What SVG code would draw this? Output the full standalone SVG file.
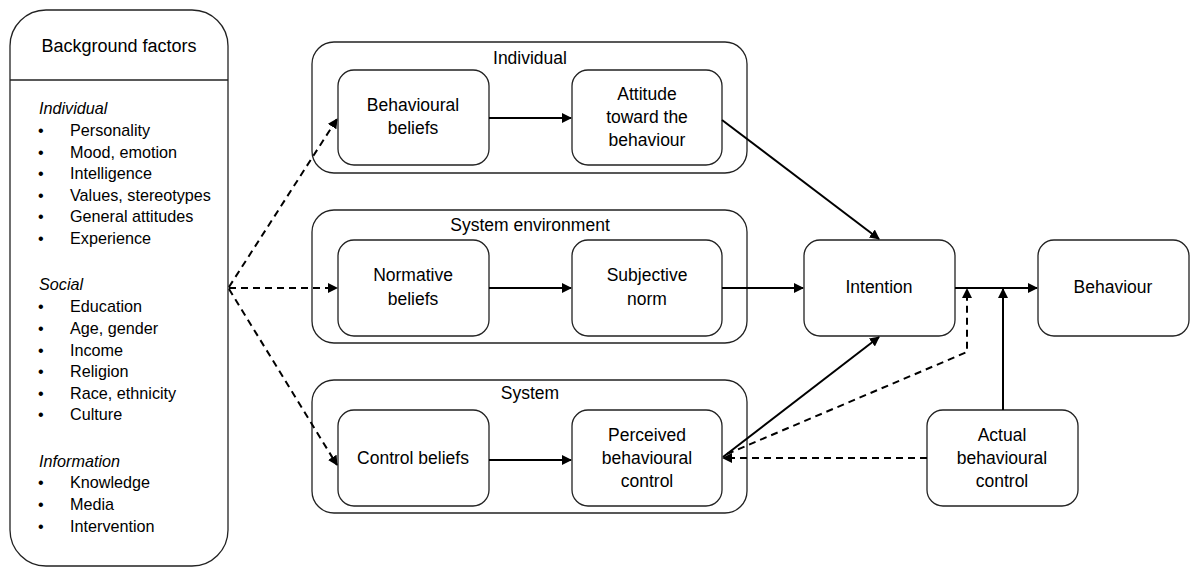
<svg xmlns="http://www.w3.org/2000/svg" width="1200" height="577" viewBox="0 0 1200 577">
<style>
.box{fill:#fff;stroke:#222;stroke-width:1.3}
.t{font-family:"Liberation Sans",Arial,sans-serif;font-size:17.5px;fill:#000;text-anchor:middle}
.l{font-family:"Liberation Sans",Arial,sans-serif;font-size:16.2px;fill:#000}
.i{font-style:italic}
.s{stroke:#000;stroke-width:2;fill:none}
.d{stroke:#000;stroke-width:2;fill:none;stroke-dasharray:7,5}
</style>
<defs>
<marker id="a" viewBox="0 0 10 10" refX="9" refY="5" markerWidth="5" markerHeight="5" orient="auto" markerUnits="strokeWidth">
<path d="M0,0 L10,5 L0,10 z" fill="#000"/>
</marker>
</defs>
<rect width="1200" height="577" fill="#fff"/>
<g id="background">
<rect class="box" x="10" y="10" width="218" height="556" rx="36"/>
<line x1="10" y1="80" x2="228" y2="80" stroke="#222" stroke-width="1.5"/>
<text class="t" x="119" y="52" style="font-size:18px">Background factors</text>
<g class="l">
<text x="39" y="114" class="i">Individual</text>
<text x="38" y="136">•</text><text x="70" y="136">Personality</text>
<text x="38" y="158">•</text><text x="70" y="158">Mood, emotion</text>
<text x="38" y="179">•</text><text x="70" y="179">Intelligence</text>
<text x="38" y="201">•</text><text x="70" y="201">Values, stereotypes</text>
<text x="38" y="222">•</text><text x="70" y="222">General attitudes</text>
<text x="38" y="244">•</text><text x="70" y="244">Experience</text>
<text x="39" y="290" class="i">Social</text>
<text x="38" y="312">•</text><text x="70" y="312">Education</text>
<text x="38" y="334">•</text><text x="70" y="334">Age, gender</text>
<text x="38" y="356">•</text><text x="70" y="356">Income</text>
<text x="38" y="377">•</text><text x="70" y="377">Religion</text>
<text x="38" y="399">•</text><text x="70" y="399">Race, ethnicity</text>
<text x="38" y="420">•</text><text x="70" y="420">Culture</text>
<text x="39" y="467" class="i">Information</text>
<text x="38" y="488">•</text><text x="70" y="488">Knowledge</text>
<text x="38" y="510">•</text><text x="70" y="510">Media</text>
<text x="38" y="532">•</text><text x="70" y="532">Intervention</text>
</g>
</g>
<g id="grp-individual">
<rect class="box" x="312" y="42" width="435" height="131" rx="22"/>
<text class="t" x="530" y="64">Individual</text>
</g>
<g id="grp-sysenv">
<rect class="box" x="312" y="210" width="435" height="133" rx="22"/>
<text class="t" x="530" y="231">System environment</text>
</g>
<g id="grp-system">
<rect class="box" x="312" y="380" width="435" height="133" rx="22"/>
<text class="t" x="530" y="399">System</text>
</g>
<g id="behavioural-beliefs">
<rect class="box" x="338" y="70" width="151" height="95" rx="16"/>
<text class="t" x="413" y="111">Behavioural</text><text class="t" x="413" y="134">beliefs</text>
</g>
<g id="attitude">
<rect class="box" x="572" y="70" width="150" height="95" rx="16"/>
<text class="t" x="647" y="100">Attitude</text><text class="t" x="647" y="123">toward the</text><text class="t" x="647" y="146">behaviour</text>
</g>
<g id="normative-beliefs">
<rect class="box" x="338" y="240" width="151" height="96" rx="16"/>
<text class="t" x="413" y="281">Normative</text><text class="t" x="413" y="305">beliefs</text>
</g>
<g id="subjective-norm">
<rect class="box" x="572" y="240" width="150" height="96" rx="16"/>
<text class="t" x="647" y="281">Subjective</text><text class="t" x="647" y="305">norm</text>
</g>
<g id="control-beliefs">
<rect class="box" x="338" y="410" width="151" height="96" rx="16"/>
<text class="t" x="413" y="464">Control beliefs</text>
</g>
<g id="perceived">
<rect class="box" x="572" y="410" width="150" height="96" rx="16"/>
<text class="t" x="647" y="441">Perceived</text><text class="t" x="647" y="464">behavioural</text><text class="t" x="647" y="487">control</text>
</g>
<g id="intention">
<rect class="box" x="804" y="240" width="151" height="96" rx="16"/>
<text class="t" x="879" y="293">Intention</text>
</g>
<g id="behaviour">
<rect class="box" x="1038" y="240" width="151" height="96" rx="16"/>
<text class="t" x="1113" y="293">Behaviour</text>
</g>
<g id="actual">
<rect class="box" x="927" y="410" width="151" height="96" rx="16"/>
<text class="t" x="1002" y="441">Actual</text><text class="t" x="1002" y="464">behavioural</text><text class="t" x="1002" y="487">control</text>
</g>
<g id="connectors">
<line class="d" x1="229" y1="287" x2="337" y2="119" marker-end="url(#a)"/>
<line class="d" x1="229" y1="288" x2="337" y2="288" marker-end="url(#a)"/>
<line class="d" x1="229" y1="289" x2="337" y2="465" marker-end="url(#a)"/>
<line class="s" x1="489" y1="118" x2="571" y2="118" marker-end="url(#a)"/>
<line class="s" x1="489" y1="288" x2="571" y2="288" marker-end="url(#a)"/>
<line class="s" x1="489" y1="460" x2="571" y2="460" marker-end="url(#a)"/>
<line class="s" x1="722" y1="120" x2="879" y2="239" marker-end="url(#a)"/>
<line class="s" x1="722" y1="288" x2="803" y2="288" marker-end="url(#a)"/>
<line class="s" x1="723" y1="457" x2="879" y2="337" marker-end="url(#a)"/>
<line class="s" x1="955" y1="288" x2="1037" y2="288" marker-end="url(#a)"/>
<line class="s" x1="1003" y1="410" x2="1003" y2="289" marker-end="url(#a)"/>
<polyline class="d" points="727,454 967,352 967,289" marker-end="url(#a)"/>
<line class="d" x1="927" y1="458" x2="723" y2="458" marker-end="url(#a)"/>
</g>
</svg>
